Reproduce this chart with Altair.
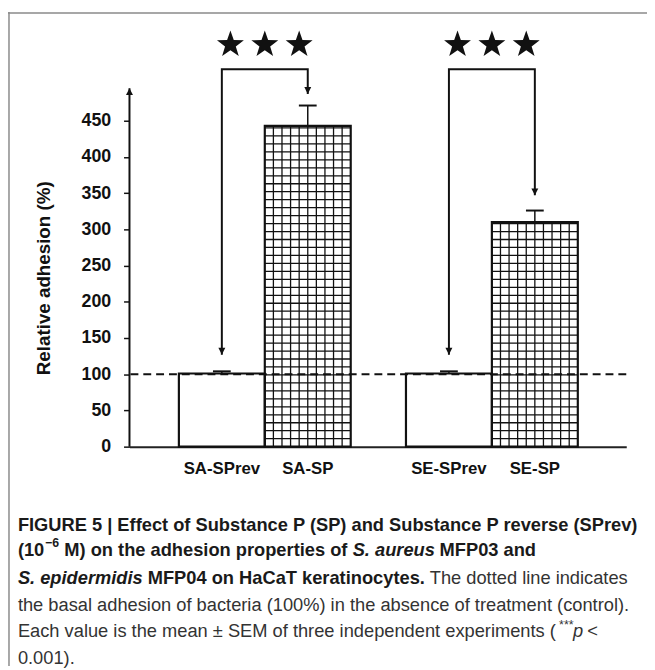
import altair as alt
import pandas as pd

# ---------------- data ----------------
categories = ["SA-SPrev", "SA-SP", "SE-SPrev", "SE-SP"]
groups = ["SA", "SA", "SE", "SE"]
treatments = ["SPrev", "SP", "SPrev", "SP"]
means = [101, 443, 101, 310]
sems = [3, 28, 3, 16]
y_ticks = [0, 50, 100, 150, 200, 250, 300, 350, 400, 450]
control_level = [100]
sig_groups = ["SA", "SE"]
bracket_level = [521, 521]
prev_arrow_tip = [127, 127]
sp_arrow_tip = [487, 347]
star_level = [555, 555]
stars_per_group = 3
y_axis_top = [495]

# ---------------- layout / style ----------------
W, H = 503, 440
PAD = {"left": 123, "top": 0, "right": 21, "bottom": 222}
OX, OY = 8 + PAD["left"], 8 + PAD["top"]   # page position of plot origin
Y_MAX = 600
X_LEFT, PAIR_GAP, X_MAX = 0.575, 0.643, 5.782
STAR_SPACING = 0.40
HSTEP = 11
FONT = "Liberation Sans"
INK = "#111111"

STAR = ("M0,-1L0.235,-0.324L0.951,-0.309L0.38,0.124L0.588,0.809"
        "L0,0.4L-0.588,0.809L-0.38,0.124L-0.951,-0.309L-0.235,-0.324Z")
DOWN = "M-1,-2L1,-2L0,0Z"
UP = "M-1,2L1,2L0,0Z"

g_index = {g: i for i, g in enumerate(sig_groups)}
t_index = {"SPrev": 0, "SP": 1}

bars = pd.DataFrame({"category": categories, "group": groups,
                     "treatment": treatments, "mean": means, "sem": sems})
bars["x0"] = [X_LEFT + g_index[g] * (2 + PAIR_GAP) + t_index[t]
              for g, t in zip(groups, treatments)]
bars["x1"] = bars["x0"] + 1
bars["xc"] = bars["x0"] + 0.5
bars["upper"] = bars["mean"] + bars["sem"]
bars["base"] = 0

rows = []
tips = []
for i, g in enumerate(sig_groups):
    xprev = float(bars[(bars.group == g) & (bars.treatment == "SPrev")].xc.iloc[0])
    xsp = float(bars[(bars.group == g) & (bars.treatment == "SP")].xc.iloc[0])
    rows += [
        {"group": g, "ord": 0, "bx": xprev, "by": prev_arrow_tip[i]},
        {"group": g, "ord": 1, "bx": xprev, "by": bracket_level[i]},
        {"group": g, "ord": 2, "bx": xsp, "by": bracket_level[i]},
        {"group": g, "ord": 3, "bx": xsp, "by": sp_arrow_tip[i]},
    ]
    tips += [{"tx": xprev, "ty": prev_arrow_tip[i]}, {"tx": xsp, "ty": sp_arrow_tip[i]}]
brackets = pd.DataFrame(rows)
arrow_tips = pd.DataFrame(tips)

star_rows = []
for i, g in enumerate(sig_groups):
    center = float(bars[(bars.group == g) & (bars.treatment == "SP")].x0.iloc[0])
    for k in range(stars_per_group):
        star_rows.append({"sx": center + (k - (stars_per_group - 1) / 2) * STAR_SPACING,
                          "sy": star_level[i]})
stars = pd.DataFrame(star_rows)

xs = alt.Scale(domain=[0, X_MAX], nice=False, zero=False)
ys = alt.Scale(domain=[0, Y_MAX], nice=False)

x_axis = alt.Axis(labels=False, ticks=False, grid=False, domain=True,
                  domainColor="#222222", domainWidth=2, title=None)
y_axis = alt.Axis(values=y_ticks, domain=False, grid=False, ticks=True,
                  tickSize=6, tickWidth=1.5, tickColor=INK,
                  labelFont=FONT, labelFontSize=18, labelFontWeight="bold",
                  labelColor=INK, labelPadding=13,
                  title="Relative adhesion (%)", titleFont=FONT,
                  titleFontSize=19, titleFontWeight="bold", titleColor=INK,
                  titleX=44 - OX, titleY=277 - OY, titleAngle=270,
                  titleAlign="center", titleBaseline="middle")


def X(field):
    return alt.X(field, scale=xs, axis=x_axis)


def Y(field):
    return alt.Y(field, scale=ys, axis=y_axis)


bar_fill = alt.Chart(bars).mark_rect(fill="white").encode(
    x=X("x0:Q"), x2="x1:Q", y=Y("mean:Q"), y2="base:Q")

sp_only = alt.datum.treatment == "SP"
hatch_v = (alt.Chart(bars).transform_filter(sp_only)
           .transform_calculate(k="sequence(1, 10)")
           .transform_flatten(["k"])
           .transform_calculate(xv="datum.x0 + datum.k / 10")
           .mark_rule(color=INK, strokeWidth=1.3)
           .encode(x=X("xv:Q"), y=Y("mean:Q"), y2="base:Q"))
hatch_h = (alt.Chart(bars).transform_filter(sp_only)
           .transform_calculate(h=f"sequence({HSTEP}, datum.mean, {HSTEP})")
           .transform_flatten(["h"])
           .mark_rule(color=INK, strokeWidth=1.3)
           .encode(x=X("x0:Q"), x2="x1:Q", y=Y("h:Q")))

bar_outline = alt.Chart(bars).mark_rect(fillOpacity=0, stroke=INK, strokeWidth=2.2).encode(
    x=X("x0:Q"), x2="x1:Q", y=Y("mean:Q"), y2="base:Q")

dashed = alt.Chart(pd.DataFrame({"level": control_level})).mark_rule(
    strokeDash=[8, 5], strokeWidth=2, color=INK).encode(y=Y("level:Q"))

err_rule = alt.Chart(bars).mark_rule(color=INK, strokeWidth=1.5).encode(
    x=X("xc:Q"), y=Y("mean:Q"), y2="upper:Q")
err_cap = alt.Chart(bars).mark_tick(orient="horizontal", size=18, thickness=2,
                                    color=INK, opacity=1).encode(
    x=X("xc:Q"), y=Y("upper:Q"))

bracket_lines = alt.Chart(brackets).mark_line(color=INK, strokeWidth=2).encode(
    x=X("bx:Q"), y=Y("by:Q"), detail="group:N", order="ord:Q")
arrow_heads = alt.Chart(arrow_tips).mark_point(
    shape=DOWN, filled=True, size=49, color=INK, opacity=1, strokeWidth=0).encode(
    x=X("tx:Q"), y=Y("ty:Q"))
star_marks = alt.Chart(stars).mark_point(
    shape=STAR, filled=True, size=820, color=INK, opacity=1, strokeWidth=0).encode(
    x=X("sx:Q"), y=Y("sy:Q"))

yaxis_df = pd.DataFrame({"top": y_axis_top, "ax": [0], "bottom": [0]})
yaxis_line = alt.Chart(yaxis_df).mark_rule(color=INK, strokeWidth=2).encode(
    x=X("ax:Q"), y=Y("bottom:Q"), y2="top:Q")
yaxis_head = alt.Chart(yaxis_df).mark_point(
    shape=UP, filled=True, size=49, color=INK, opacity=1, strokeWidth=0).encode(
    x=X("ax:Q"), y=Y("top:Q"))

x_labels = alt.Chart(bars).mark_text(
    font=FONT, fontSize=17, fontWeight="bold", color=INK,
    align="center", baseline="middle").encode(
    x=X("xc:Q"), y=alt.value(471 - OY), text="category:N")

# ---------------- caption (figure legend), page coordinates ----------------
caption_segments = [
    ("FIGURE 5 | Effect of Substance P (SP) and Substance P reverse (SPrev)", 18, 527, "bold", "normal", 18.5),
    ("(10", 18, 553, "bold", "normal", 18.5),
    ("\u22126", 45.5, 546, "bold", "normal", 12.5),
    ("M) on the adhesion properties of", 65, 553, "bold", "normal", 18.5),
    ("S. aureus", 357, 553, "bold", "italic", 18.5),
    ("MFP03 and", 445, 553, "bold", "normal", 18.5),
    ("S. epidermidis", 18, 581, "bold", "italic", 18.5),
    ("MFP04 on HaCaT keratinocytes.", 149.5, 581, "bold", "normal", 18.5),
    ("The dotted line indicates", 435, 581, "normal", "normal", 18.5),
    ("the basal adhesion of bacteria (100%) in the absence of treatment (control).", 18, 608, "normal", "normal", 18.5),
    ("Each value is the mean \u00b1 SEM of three independent experiments (", 18, 635, "normal", "normal", 18.5),
    ("***", 566, 629, "normal", "normal", 12.5),
    ("p", 580, 635, "normal", "italic", 18.5),
    ("<", 594.5, 635, "normal", "normal", 18.5),
    ("0.001).", 18, 662, "normal", "normal", 18.5),
]
caption_layers = []
for text, px, py, weight, style, size in caption_segments:
    caption_layers.append(
        alt.Chart(pd.DataFrame({"t": [text]})).mark_text(
            font=FONT, fontSize=size, fontWeight=weight, fontStyle=style,
            color="#1a1a1a" if weight == "bold" else "#333333",
            align="left", baseline="middle").encode(
            x=alt.value(px - OX), y=alt.value(py - OY), text="t:N"))

one = pd.DataFrame({"d": [0]})
border_left = alt.Chart(one).mark_rule(color="#8a8a8a", strokeWidth=1.5).encode(
    x=alt.value(9 - OX), y=alt.value(0), y2=alt.value(H + PAD["bottom"]))
border_top = alt.Chart(one).mark_rule(color="#8a8a8a", strokeWidth=1.5).encode(
    x=alt.value(8 - OX), x2=alt.value(W + PAD["right"]), y=alt.value(9 - OY))

chart = alt.layer(
    bar_fill, hatch_v, hatch_h, bar_outline, dashed, err_rule, err_cap,
    bracket_lines, arrow_heads, star_marks, yaxis_line, yaxis_head, x_labels,
    *caption_layers, border_left, border_top,
).properties(
    width=W, height=H, padding=PAD,
    autosize=alt.AutoSizeParams(type="none"),
    background="white",
).configure_view(stroke=None)

chart.save("out.html", embed_options={"renderer": "svg", "actions": False})
